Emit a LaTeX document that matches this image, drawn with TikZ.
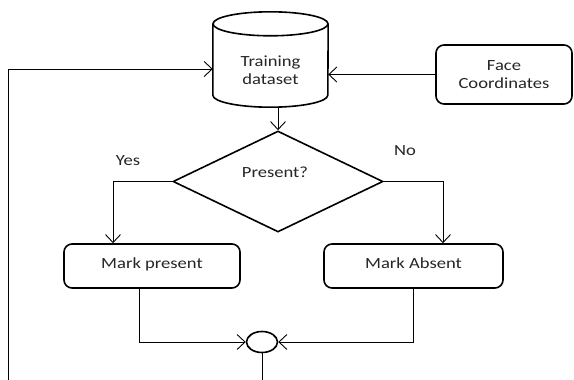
\documentclass[tikz,border=0pt]{standalone}
\usepackage{fontspec}
\setmainfont{Carlito}[FakeStretch=1.2]
\usetikzlibrary{shapes.geometric,arrows.meta,calc}
\begin{document}
\begin{tikzpicture}[x=1pt,y=-1pt,
  every node/.style={font=\fontsize{15.5}{18.5}\selectfont, text=black!85},
  bd/.style={line width=1.6pt},
  conn/.style={line width=0.9pt},
  arr/.style={conn,-{Straight Barb[length=8pt,width=15pt,line width=0.9pt]}},
  rbox/.style={draw, bd, rounded corners=8pt, inner sep=0pt, align=center},
  txt/.style={inner sep=0pt, align=center}]
\useasboundingbox[fill=white] (0,0) rectangle (574,380);
% nodes
\node[inner sep=0pt, minimum width=115pt, minimum height=95pt] (cyl) at (270.5,59.5) {};
\node[txt] (cyltxt) at (270.5,70) {Training\\dataset};
\node[rbox, minimum width=136pt, minimum height=59pt] (face) at (504,74.5) {Face\\Coordinates};
\node[draw, bd, diamond, inner sep=0pt, minimum width=210pt, minimum height=101pt] (dia) at (278,181.5) {};
\node[txt] (pres) at (275,172) {Present?};
\node[txt] (yes) at (128,161) {Yes};
\node[txt] (no) at (405,151) {No};
\node[rbox, minimum width=176pt, minimum height=44pt, text height=10pt, text depth=6pt] (mp) at (152,266) {Mark present};
\node[rbox, minimum width=179pt, minimum height=44pt, text height=10pt, text depth=6pt] (ma) at (413.5,266) {Mark Absent};
\node[draw, bd, ellipse, inner sep=0pt, minimum width=31pt, minimum height=21pt] (circ) at (262,342) {};
% cylinder outline
\draw[bd] ([yshift=-12pt]cyl.north) ellipse [x radius=57.5pt, y radius=12pt];
\draw[bd] ([yshift=-12pt]cyl.north west) -- ([yshift=12pt]cyl.south west)
  arc[start angle=180, end angle=360, x radius=57.5pt, y radius=12pt]
  -- ([yshift=-12pt]cyl.north east);
% helper coordinates
\coordinate (lb) at (8,380);
\coordinate (lt) at (8,69);
\coordinate (yesx) at (113,0);
\coordinate (nox) at (443,0);
\coordinate (mpx) at (139,0);
\coordinate (cb) at (262,380);
% connectors
\draw[arr] (lb) -- (lt) -- (lt -| cyl.west);
\draw[arr] (face.west) -- (face.west -| cyl.east);
\draw[arr] (dia.north |- cyl.south) -- (dia.north);
\draw[arr] (dia.west) -| (yesx |- mp.north);
\draw[arr] (dia.east) -| (nox |- ma.north);
\draw[arr] (mpx |- mp.south) |- (circ.west);
\draw[arr] (ma.south) |- (circ.east);
\draw[conn] (circ.south) -- (cb);
\end{tikzpicture}
\end{document}
